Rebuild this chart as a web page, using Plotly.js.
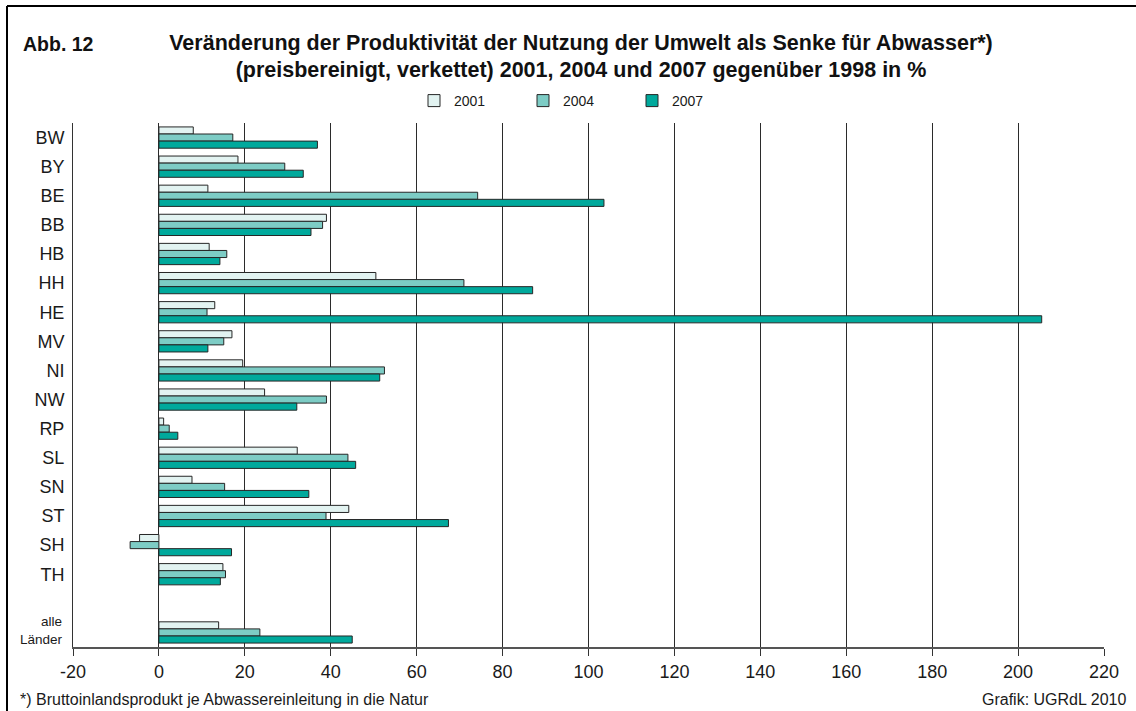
<!DOCTYPE html>
<html>
<head>
<meta charset="utf-8">
<script src="https://cdn.plot.ly/plotly-3.0.1.min.js"></script>
<style>
  html, body { margin: 0; padding: 0; background: #fff; }
  #chart { width: 1136px; height: 711px; }
</style>
</head>
<body>
<div id="chart"></div>
<script>
// ---- data ----
const categories = ['BW','BY','BE','BB','HB','HH','HE','MV','NI','NW','RP','SL','SN','ST','SH','TH','alle Länder'];
const tickLabels = ['BW','BY','BE','BB','HB','HH','HE','MV','NI','NW','RP','SL','SN','ST','SH','TH','alle<br>Länder'];
const seriesNames = ['2001','2004','2007'];
const v2001 = [8.0, 18.4, 11.4, 39.0, 11.7, 50.5, 13.0, 17.0, 19.5, 24.6, 1.1, 32.2, 7.7, 44.2, -4.5, 14.9, 13.9];
const v2004 = [17.2, 29.3, 74.2, 38.1, 15.8, 71.0, 11.2, 15.1, 52.5, 39.0, 2.4, 44.0, 15.3, 38.9, -6.7, 15.5, 23.5];
const v2007 = [36.9, 33.6, 103.6, 35.4, 14.2, 87.0, 205.5, 11.4, 51.4, 32.1, 4.4, 45.8, 34.9, 67.4, 16.9, 14.3, 45.0];
const colors = ['#e2f3f1', '#7dccc5', '#00a99c'];
const xTicks = [-20, 0, 20, 40, 60, 80, 100, 120, 140, 160, 180, 200, 220];

// category order with an empty slot before "alle Länder";
// the two-line "alle Länder" label is drawn smaller, as an annotation on its category
const gapCat = ' ';
const catOrder = categories.slice(0, 16).concat([gapCat], categories.slice(16));
const isMulti = tickLabels.map(t => t.indexOf('<br>') >= 0);
const plainLabels = tickLabels.map((t, i) => isMulti[i] ? '' : t);
const tickText = plainLabels.slice(0, 16).concat([''], plainLabels.slice(16));

const values = [v2001, v2004, v2007];
const traces = values.map((v, i) => ({
  type: 'bar',
  orientation: 'h',
  name: seriesNames[i],
  y: categories,
  x: v,
  marker: { color: colors[i], line: { color: '#262626', width: 1 } },
  hoverinfo: 'x+y+name'
}));

const W = 1136, H = 711;
const M = { l: 73, r: 32, t: 123, b: 64 };
const pw = W - M.l - M.r, ph = H - M.t - M.b;
const px = x => (x - M.l) / pw;           // pixel -> paper x
const py = y => (H - M.b - y) / ph;       // pixel -> paper y

const FONT = 'Liberation Sans, Arial, sans-serif';

const multiAnnotations = tickLabels
  .map((t, i) => ({ t, i }))
  .filter(o => isMulti[o.i])
  .map(o => ({
    text: o.t, xref: 'paper', yref: 'y', x: px(65), y: categories[o.i],
    xanchor: 'right', yanchor: 'middle', align: 'right', showarrow: false, yshift: 2,
    font: { family: FONT, size: 13.5, color: '#1a1a1a' }
  }));

const layout = {
  width: W, height: H,
  margin: M,
  paper_bgcolor: '#fff',
  plot_bgcolor: '#fff',
  font: { family: FONT, color: '#1a1a1a', size: 16 },
  barmode: 'group',
  bargap: 0.27,
  bargroupgap: 0,
  title: {
    text: 'Veränderung der Produktivität der Nutzung der Umwelt als Senke für Abwasser*)<br>(preisbereinigt, verkettet) 2001, 2004 und 2007 gegenüber 1998 in %',
    font: { family: FONT, size: 21.5, color: '#111', weight: 'bold' },
    xref: 'container', x: 581 / W, xanchor: 'center',
    yref: 'container', y: 1 - 49.5 / H, yanchor: 'top'
  },
  showlegend: true,
  legend: {
    orientation: 'h',
    x: px(414), xanchor: 'left',
    y: py(101), yanchor: 'middle',
    font: { family: FONT, size: 14, color: '#1a1a1a' },
    entrywidth: 64, entrywidthmode: 'pixels',
    traceorder: 'normal',
    bgcolor: 'rgba(0,0,0,0)'
  },
  xaxis: {
    range: [-20, 220],
    tickvals: xTicks,
    ticktext: xTicks.map(String),
    showgrid: true, gridcolor: '#2b2b2b', gridwidth: 1,
    zeroline: true, zerolinecolor: '#2b2b2b', zerolinewidth: 1,
    showline: true, linecolor: '#555', linewidth: 2,
    ticks: 'outside', ticklen: 7, tickcolor: '#333', tickwidth: 1,
    tickfont: { family: FONT, size: 18, color: '#1a1a1a' },
    fixedrange: true
  },
  yaxis: {
    type: 'category',
    categoryorder: 'array', categoryarray: catOrder,
    tickvals: catOrder, ticktext: tickText,
    autorange: false, range: [catOrder.length - 0.5, -0.5],
    showgrid: false, zeroline: false,
    showline: true, linecolor: '#333', linewidth: 1,
    ticks: '', ticklabelstandoff: 4,
    tickfont: { family: FONT, size: 18, color: '#1a1a1a' },
    fixedrange: true
  },
  shapes: [
    { type: 'line', xref: 'paper', yref: 'paper', x0: px(7), x1: px(W + 5), y0: py(6), y1: py(6),
      line: { color: '#000', width: 2 } },
    { type: 'line', xref: 'paper', yref: 'paper', x0: px(7), x1: px(7), y0: py(6), y1: py(H + 5),
      line: { color: '#000', width: 2 } }
  ],
  annotations: [
    { text: '<b>Abb. 12</b>', xref: 'paper', yref: 'paper', x: px(21), y: py(44),
      xanchor: 'left', yanchor: 'middle', showarrow: false,
      font: { family: FONT, size: 19.5, color: '#111' } },
    { text: '*) Bruttoinlandsprodukt je Abwassereinleitung in die Natur', xref: 'paper', yref: 'paper',
      x: px(18), y: py(699), xanchor: 'left', yanchor: 'middle', showarrow: false,
      font: { family: FONT, size: 16, color: '#1a1a1a' } },
    { text: 'Grafik: UGRdL 2010', xref: 'paper', yref: 'paper',
      x: px(1128), y: py(699), xanchor: 'right', yanchor: 'middle', showarrow: false,
      font: { family: FONT, size: 16, color: '#1a1a1a' } }
  ].concat(multiAnnotations)
};

Plotly.newPlot('chart', traces, layout, { displayModeBar: false, staticPlot: true });
</script>
</body>
</html>
